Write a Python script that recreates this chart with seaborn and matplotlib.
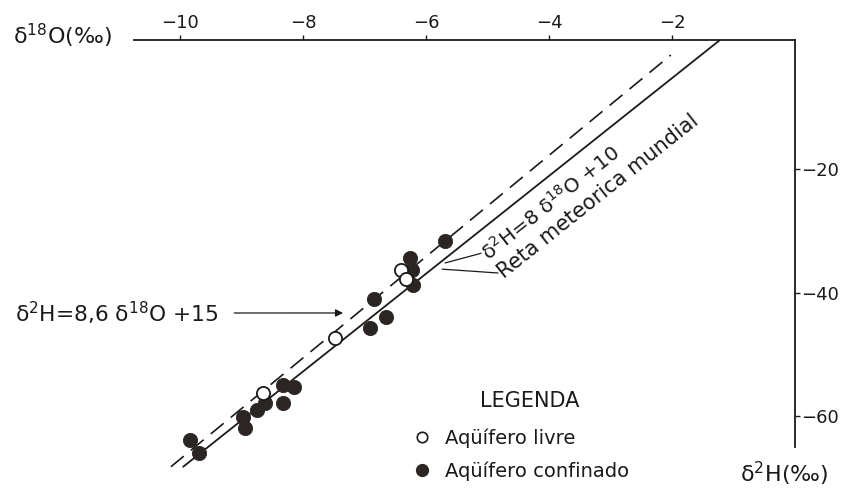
import matplotlib
matplotlib.use("Agg")
import matplotlib.pyplot as plt
from matplotlib.lines import Line2D
import seaborn as sns

sns.set_theme(style="white")
plt.rcParams['font.family'] = ['DejaVu Sans']
plt.rcParams['mathtext.fontset'] = 'dejavusans'

# ---- data ----
livre_d18O = [-6.40, -6.33, -7.48, -8.66]
livre_d2H = [-36.3, -37.8, -47.4, -56.3]

conf_d18O = [-5.69, -6.26, -6.23, -6.21, -6.85, -6.65, -6.92, -8.32, -8.15,
             -8.32, -8.75, -8.62, -8.98, -8.94, -9.84, -9.69]
conf_d2H = [-31.7, -34.4, -36.3, -38.7, -41.1, -43.9, -45.8, -54.9, -55.3,
            -57.8, -59.0, -57.9, -60.1, -61.9, -63.8, -65.9]

# world meteoric line (solid) and local line (dashed), end points
meteoric_d18O = [-9.95, -1.22]
meteoric_d2H = [-68.2, 0.9]
local_d18O = [-10.15, -2.02]
local_d2H = [-68.2, -1.54]

x_ticks = [-10, -8, -6, -4, -2]
y_ticks = [-20, -40, -60]

legend_title = "LEGENDA"
legend_labels = ["Aqüífero livre", "Aqüífero confinado"]

INK = "#1c1a19"
DOT = "#2b2624"

W, H = 849, 492
def fx(px):
    return px / W
def fy(py):
    return 1 - py / H

fig = plt.figure(figsize=(W / 100, H / 100), dpi=100)
fig.patch.set_facecolor("white")
ax = fig.add_axes([fx(134), fy(447), (795 - 134) / W, (447 - 40) / H])
ax.set_facecolor("white")

ax.set_xlim(-10.75, 0)
ax.set_ylim(-65, 0.9)

for s in ["left", "bottom"]:
    ax.spines[s].set_visible(False)
for s in ["top", "right"]:
    ax.spines[s].set_visible(True)
    ax.spines[s].set_color(INK)
    ax.spines[s].set_linewidth(1.3)

ax.xaxis.tick_top()
ax.yaxis.tick_right()
ax.set_xticks(x_ticks)
ax.set_yticks(y_ticks)
ax.tick_params(axis="x", direction="out", length=3.5, width=1.0, color=INK,
               labelsize=13, pad=2, labelcolor=INK)
ax.tick_params(axis="y", direction="out", length=3.5, width=1.0, color=INK,
               labelsize=13, pad=1, labelcolor=INK)
ax.set_xlabel("")
ax.set_ylabel("")

# lines
sns.lineplot(x=meteoric_d18O, y=meteoric_d2H, ax=ax, color=INK, lw=1.3,
             sort=False, estimator=None, clip_on=False, legend=False)
sns.lineplot(x=local_d18O, y=local_d2H, ax=ax, color=INK, lw=1.2,
             linestyle=(0, (10, 5.5)), sort=False, estimator=None,
             clip_on=False, legend=False)

# points
sns.scatterplot(x=conf_d18O, y=conf_d2H, ax=ax, s=105, color=DOT,
                edgecolor=DOT, linewidth=0.6, clip_on=False, zorder=4,
                legend=False)
sns.scatterplot(x=livre_d18O, y=livre_d2H, ax=ax, s=90, color="white",
                edgecolor=INK, linewidth=1.3, clip_on=False, zorder=5,
                legend=False)

# axis titles
fig.text(fx(13), fy(36), r"δ$^{18}$O(‰)", fontsize=16, ha="left",
         va="center", color=INK)
fig.text(fx(740), fy(474), r"δ$^{2}$H(‰)", fontsize=16, ha="left",
         va="center", color=INK)

# dashed line equation with arrow
ax.annotate(r"δ$^{2}$H=8,6 δ$^{18}$O +15", xy=(-7.35, -43.3),
            xycoords="data", xytext=(fx(15), fy(313)),
            textcoords="figure fraction", ha="left", va="center",
            fontsize=15.7, color=INK,
            arrowprops=dict(arrowstyle="-|>", color=INK, lw=0.9,
                            shrinkA=9, shrinkB=0, mutation_scale=11))

# leader lines to the meteoric line labels
ax.annotate("", xy=(-5.69, -35.2), xycoords="data",
            xytext=(fx(481), fy(253.3)), textcoords="figure fraction",
            arrowprops=dict(arrowstyle="-", color=INK, lw=0.9,
                            shrinkA=0, shrinkB=0))
ax.annotate("", xy=(-5.74, -36.2), xycoords="data",
            xytext=(fx(498), fy(273)), textcoords="figure fraction",
            arrowprops=dict(arrowstyle="-", color=INK, lw=0.9,
                            shrinkA=0, shrinkB=0))

fig.text(fx(484), fy(256), r"δ$^{2}$H=8 δ$^{18}$O +10", rotation=38.5,
         rotation_mode="anchor", ha="left", va="center", fontsize=14.5,
         color=INK)
fig.text(fx(500), fy(274), "Reta meteorica mundial", rotation=38.5,
         rotation_mode="anchor", ha="left", va="center", fontsize=15,
         color=INK)

# legend
fig.text(fx(530), fy(401), legend_title, fontsize=15, ha="center",
         va="center", color=INK)
handles = [
    Line2D([], [], linestyle="none", marker="o", markersize=7.5,
           markerfacecolor="white", markeredgecolor=INK, markeredgewidth=1.2),
    Line2D([], [], linestyle="none", marker="o", markersize=8.5,
           markerfacecolor=DOT, markeredgecolor=DOT),
]
leg = ax.legend(handles, legend_labels,
                loc="upper left", bbox_to_anchor=(fx(413), fy(428)),
                bbox_transform=fig.transFigure, frameon=False, fontsize=14,
                handlelength=0.9, handletextpad=0.75,
                labelspacing=0.72, borderpad=0, borderaxespad=0)
for t in leg.get_texts():
    t.set_color(INK)

fig.savefig("out.png", dpi=100, facecolor="white")
